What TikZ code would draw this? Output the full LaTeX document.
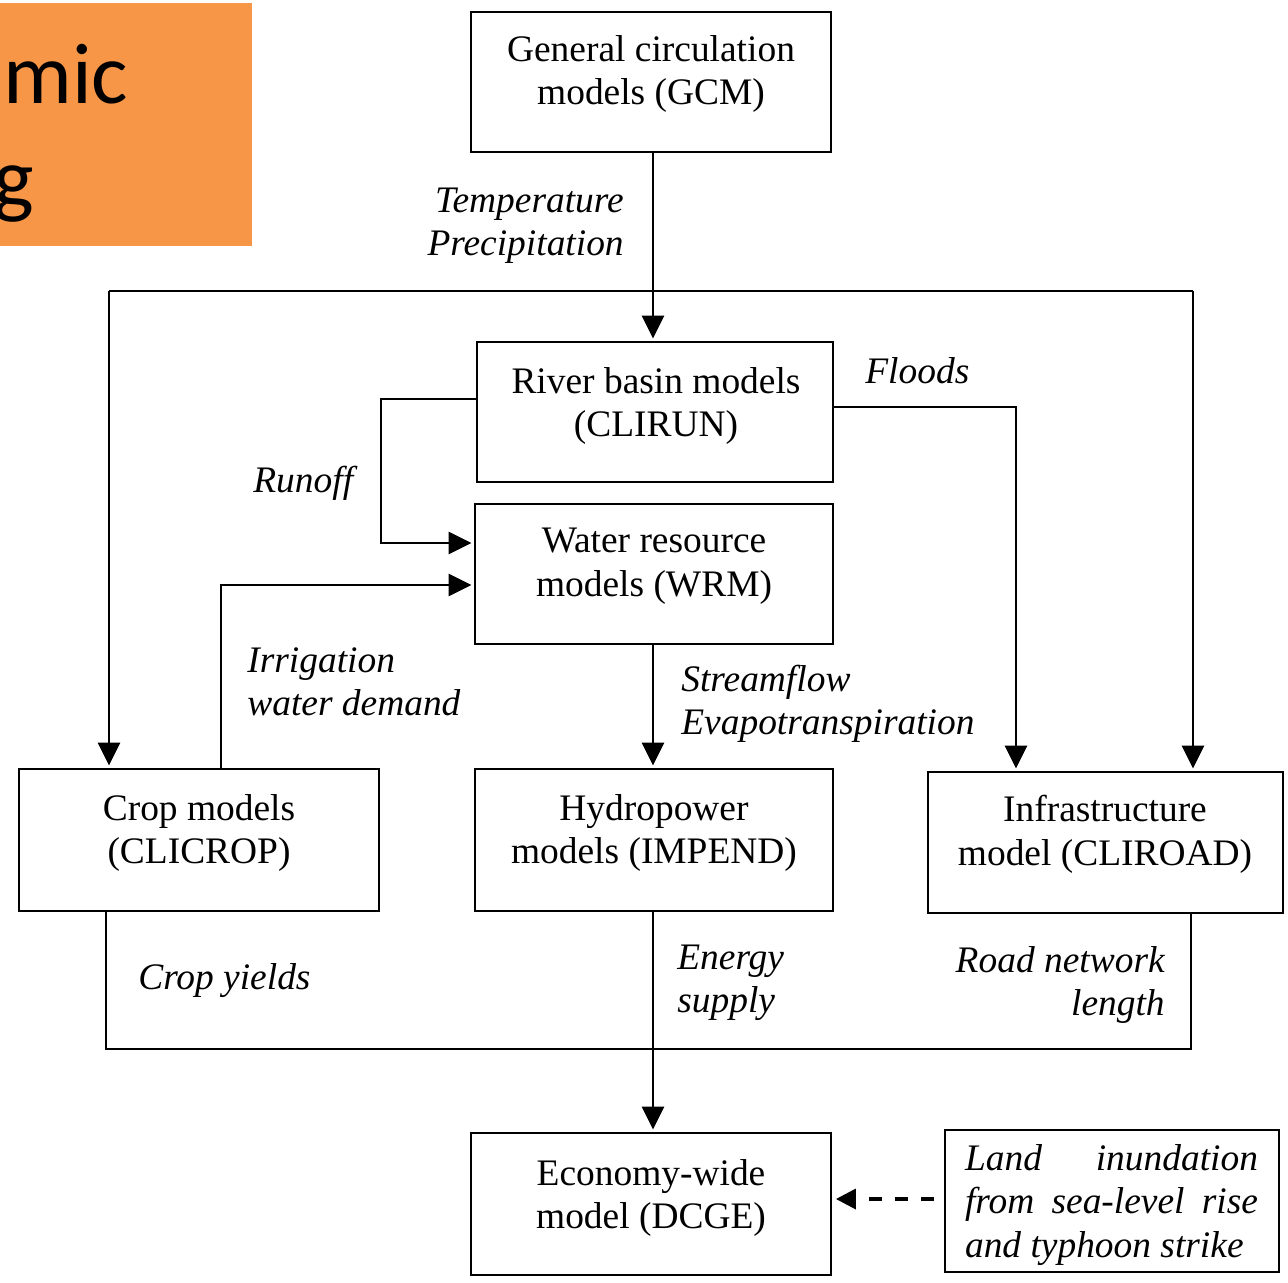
\documentclass[tikz,border=0pt]{standalone}
\usepackage{fontspec}
\setmainfont{Liberation Serif}
\newfontfamily\calib{Carlito}
\usetikzlibrary{arrows.meta,calc}
\definecolor{ofill}{HTML}{F79646}
\begin{document}
\begin{tikzpicture}[x=0.02cm,y=-0.02cm]
\tikzset{
 box/.style={draw, line width=1.1pt, inner sep=0pt, rectangle},
 txt/.style={inner sep=0pt, align=center, font=\fontsize{21.3}{25}\selectfont},
 lbl/.style={inner sep=0pt, font=\fontsize{21.3}{25}\selectfont\itshape},
 wire/.style={line width=1.6pt},
 arr/.style={wire, -{Triangle[length=0.46cm,width=0.44cm]}, shorten >=0.05cm},
}
\useasboundingbox (0,0) rectangle (1288,1282);
% orange title fragment
\begin{scope}
\clip (0,0) rectangle (1288,1282);
\fill[ofill] (0,3) rectangle (252,246);
\node[inner sep=0pt, anchor=base west, font=\calib\fontsize{49}{55}\selectfont] (t1) at (3,103) {mic};
\node[inner sep=0pt, anchor=base west, font=\calib\fontsize{49}{55}\selectfont] (t2) at (-7,207) {g};
\end{scope}
% boxes
\node[box, minimum width=7.2cm, minimum height=2.8cm] (gcm) at (651,82) {};
\node[box, minimum width=7.12cm, minimum height=2.8cm] (river) at (655,412) {};
\node[box, minimum width=7.16cm, minimum height=2.8cm] (wrm) at (654,574) {};
\node[box, minimum width=7.2cm, minimum height=2.84cm] (crop) at (199,840) {};
\node[box, minimum width=7.16cm, minimum height=2.84cm] (hydro) at (654,840) {};
\node[box, minimum width=7.1cm, minimum height=2.82cm] (infra) at (1105.5,842.5) {};
\node[box, minimum width=7.2cm, minimum height=2.84cm] (dcge) at (651,1204) {};
\node[box, minimum width=6.68cm, minimum height=2.84cm] (land) at (1112,1201) {};
% box texts
\node[txt] (gcmt) at (651,74) {General circulation\\models (GCM)};
\node[txt] (rivert) at (656,406) {River basin models\\(CLIRUN)};
\node[txt] (wrmt) at (654,566) {Water resource\\models (WRM)};
\node[txt] (cropt) at (199,833) {Crop models\\(CLICROP)};
\node[txt] (hydrot) at (654,833) {Hydropower\\models (IMPEND)};
\node[txt] (infrat) at (1105,834) {Infrastructure\\model (CLIROAD)};
\node[txt] (dcget) at (651,1198) {Economy-wide\\model (DCGE)};
\node[txt, align=left, font=\fontsize{21.3}{24.7}\selectfont\itshape] (landt) at (1111.5,1205)
 {\hbox to 5.86cm{Land\hfill inundation}\\\hbox to 5.86cm{from\hfill sea-level\hfill rise}\\and typhoon strike};
% labels
\node[lbl, anchor=mid east] (l1) at (624,208) {Temperature};
\node[lbl, anchor=mid east] (l2) at (624,251) {Precipitation};
\node[lbl, anchor=mid west] (l3) at (865,379) {Floods};
\node[lbl, anchor=mid west] (l4) at (253,488) {Runoff};
\node[lbl, anchor=mid west] (l5) at (247,668) {Irrigation};
\node[lbl, anchor=mid west] (l6) at (247,711) {water demand};
\node[lbl, anchor=mid west] (l7) at (681,687) {Streamflow};
\node[lbl, anchor=mid west] (l8) at (681,730) {Evapotranspiration};
\node[lbl, anchor=mid west] (l9) at (138,985) {Crop yields};
\node[lbl, anchor=mid west] (l10) at (677,965) {Energy};
\node[lbl, anchor=mid west] (l11) at (677,1008) {supply};
\node[lbl, anchor=mid east] (l12) at (1165,968) {Road network};
\node[lbl, anchor=mid east] (l13) at (1165,1011) {length};
% connector points
\coordinate (sp) at (653,291);
\coordinate (tl) at (109,291);
\coordinate (tr) at (1193,291);
\coordinate (fl) at (1016,407);
\coordinate (ro) at (381,399);
\coordinate (ro2) at (381,543);
\coordinate (ir) at (221,585);
\coordinate (bl) at (106,1049);
\coordinate (br) at (1191,1049);
% connectors
\draw[arr] (gcm.south -| sp) -- (sp |- river.north);
\draw[wire] (tl) -- (tr);
\draw[arr] (tl) -- (tl |- crop.north);
\draw[arr] (tr) -- (tr |- infra.north);
\draw[arr] (river.east |- fl) -- (fl) -- (fl |- infra.north);
\draw[arr] (river.west |- ro) -- (ro) -- (ro2) -- (ro2 -| wrm.west);
\draw[arr] (crop.north -| ir) -- (ir) -- (ir -| wrm.west);
\draw[arr] (wrm.south -| sp) -- (sp |- hydro.north);
\draw[wire] (crop.south -| bl) -- (bl) -- (br) -- (br |- infra.south);
\draw[arr] (hydro.south -| sp) -- (sp |- dcge.north);
\draw[wire, line width=2pt, dash pattern=on 0.27cm off 0.25cm, -{Triangle[length=0.4cm,width=0.4cm]}, shorten <=0.2cm, shorten >=0.08cm] ($(land.west)+(0,-2)$) -- ($(dcge.east)+(0,-5)$);
\end{tikzpicture}
\end{document}
